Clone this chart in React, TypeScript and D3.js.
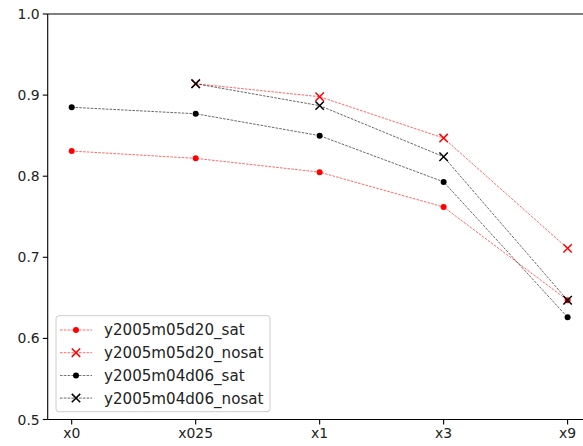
import React from "react";
import * as d3 from "d3";

const categories = ["x0", "x025", "x1", "x3", "x9"];
const yTicks = [0.5, 0.6, 0.7, 0.8, 0.9, 1.0];
const seriesNames = ["y2005m05d20_sat", "y2005m05d20_nosat", "y2005m04d06_sat", "y2005m04d06_nosat"];
const redSat: (number | null)[] = [0.831, 0.822, 0.805, 0.762, 0.647];
const redNosat: (number | null)[] = [null, 0.914, 0.898, 0.847, 0.711];
const blackSat: (number | null)[] = [0.885, 0.877, 0.850, 0.793, 0.626];
const blackNosat: (number | null)[] = [null, 0.914, 0.887, 0.824, 0.647];
const colors = ["#ff0000", "#ff0000", "#000000", "#000000"];
const markers = ["dot", "x", "dot", "x"];

const W = 583, H = 446;
const left = 47.7, top = 14, bottom = 419.5, right = 593.3;

export default function App() {
  const x = d3.scalePoint<string>().domain(categories).range([71.7, 567.6]);
  const y = d3.scaleLinear().domain([0.5, 1.0]).range([bottom, top]);
  const all = [redSat, redNosat, blackSat, blackNosat];
  const font = "DejaVu Sans, sans-serif";

  const marker = (kind: string, cx: number, cy: number, color: string, key: string) =>
    kind === "dot" ? (
      <circle key={key} cx={cx} cy={cy} r={3} fill={color} />
    ) : (
      <path key={key} d={`M${cx - 4.2},${cy - 4.2}L${cx + 4.2},${cy + 4.2}M${cx - 4.2},${cy + 4.2}L${cx + 4.2},${cy - 4.2}`} stroke={color} strokeWidth={1.5} fill="none" />
    );

  const legX = 56, legY = 315.7, legW = 214, legH = 96;
  return (
    <svg width={W} height={H} style={{ position: "absolute", left: 0, top: 0 }} fontFamily={font}>
      <rect width={W} height={H} fill="white" />
      {all.map((vals, si) => {
        const line = d3
          .line<number | null>()
          .defined((d) => d !== null)
          .x((_, i) => x(categories[i])!)
          .y((d) => y(d as number));
        return (
          <g key={si}>
            <path d={line(vals)!} fill="none" stroke={colors[si]} strokeWidth={0.7} strokeDasharray="2.6,1.2" opacity={0.85} />
            {vals.map((v, i) => (v === null ? null : marker(markers[si], x(categories[i])!, y(v), colors[si], `m${i}`)))}
          </g>
        );
      })}
      {/* spines */}
      <line x1={left} x2={left} y1={top} y2={bottom} stroke="black" strokeWidth={1.1} />
      <line x1={left} x2={right} y1={top} y2={top} stroke="black" strokeWidth={1.1} />
      <line x1={left} x2={right} y1={bottom} y2={bottom} stroke="black" strokeWidth={1.1} />
      {/* y ticks */}
      {yTicks.map((t) => (
        <g key={t}>
          <line x1={left - 4.9} x2={left} y1={y(t)} y2={y(t)} stroke="black" strokeWidth={1.1} />
          <text x={left - 8} y={y(t)} dy="0.36em" textAnchor="end" fontSize={13.9} fill="#222">
            {t.toFixed(1)}
          </text>
        </g>
      ))}
      {categories.map((c) => (
        <g key={c}>
          <line x1={x(c)!} x2={x(c)!} y1={bottom} y2={bottom + 4.9} stroke="black" strokeWidth={1.1} />
          <text x={x(c)!} y={bottom + 8} dy="0.78em" textAnchor="middle" fontSize={13.9} fill="#222">
            {c}
          </text>
        </g>
      ))}
      {/* legend */}
      <rect x={legX} y={legY} width={legW} height={legH} rx={3} fill="white" fillOpacity={0.8} stroke="#cccccc" strokeWidth={1} />
      {seriesNames.map((n, i) => {
        const ly = 330 + i * 22.7;
        return (
          <g key={n}>
            <line x1={60} x2={92} y1={ly} y2={ly} stroke={colors[i]} strokeWidth={0.7} strokeDasharray="2.6,1.2" opacity={0.85} />
            {marker(markers[i], 76, ly, colors[i], "lm")}
            <text x={104} y={ly} dy="0.36em" fontSize={15.1} fill="#222">
              {n}
            </text>
          </g>
        );
      })}
    </svg>
  );
}
